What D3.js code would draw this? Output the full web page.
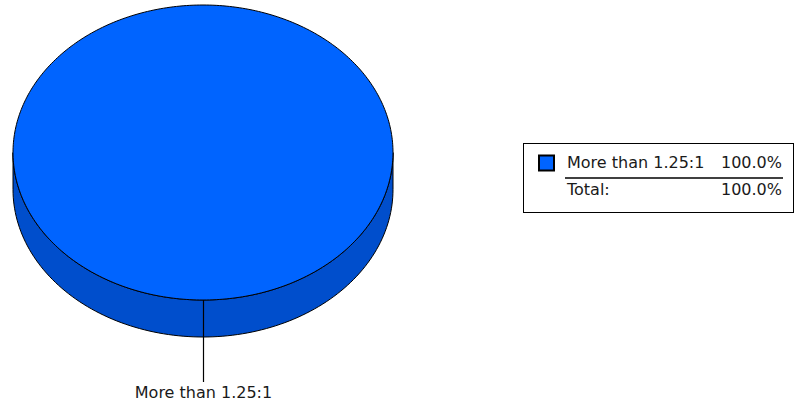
<!DOCTYPE html>
<html>
<head>
<meta charset="utf-8">
<script src="https://cdn.jsdelivr.net/npm/d3@7"></script>
<style>
  body { margin: 0; background: #fff; }
  text { font-family: "DejaVu Sans", sans-serif; fill: #1a1a1a; }
</style>
</head>
<body>
<svg id="chart" width="795" height="406"></svg>
<script>
// data
var categories = ["More than 1.25:1"];
var values = [100.0];
var percentLabels = ["100.0%"];
var totalLabel = "Total:";
var totalValue = "100.0%";

var topColor = "#0064ff";
var sideColor = "#004ecc";

var svg = d3.select("#chart");

// pie geometry
var cx = 203, cy = 152.5, rx = 190, ry = 147.5, depth = 37;

var pie = d3.pie().sort(null).value(d => d.value);
var slices = pie(categories.map((c, i) => ({label: c, value: values[i]})));

function pt(a, dy) {
  return [cx + rx * Math.sin(a), cy - ry * Math.cos(a) + (dy || 0)];
}
var line = d3.line();

// side wall (only the front half, angles pi/2 .. 3pi/2)
slices.forEach(function(s) {
  var a0 = Math.max(s.startAngle, Math.PI / 2);
  var a1 = Math.min(s.endAngle, Math.PI * 1.5);
  if (a1 <= a0) return;
  var steps = d3.range(0, 121).map(k => a0 + (a1 - a0) * k / 120);
  var pts = steps.map(a => pt(a, 0)).concat(steps.slice().reverse().map(a => pt(a, depth)));
  svg.append("path")
    .attr("d", line(pts) + "Z")
    .attr("fill", sideColor)
    .attr("stroke", "#000")
    .attr("stroke-width", 1);
});

// top face
slices.forEach(function(s) {
  var steps = d3.range(0, 361).map(k => s.startAngle + (s.endAngle - s.startAngle) * k / 360);
  var pts = steps.map(a => pt(a, 0));
  if (s.endAngle - s.startAngle < Math.PI * 2 - 1e-6) pts.push([cx, cy]);
  svg.append("path")
    .attr("d", line(pts) + "Z")
    .attr("fill", topColor)
    .attr("stroke", "#000")
    .attr("stroke-width", 1);
});

// leader lines and labels
slices.forEach(function(s) {
  var mid = (s.startAngle + s.endAngle) / 2;
  var p = pt(mid, 0);
  var x = Math.round(p[0]) + 0.5;
  svg.append("line")
    .attr("x1", x).attr("x2", x)
    .attr("y1", p[1]).attr("y2", 382)
    .attr("stroke", "#000")
    .attr("stroke-width", 1.2);
  svg.append("text")
    .attr("x", x)
    .attr("y", 398)
    .attr("text-anchor", "middle")
    .style("font-size", "16px")
    .text(s.data.label);
});

// legend
var lg = svg.append("g");
lg.append("rect")
  .attr("x", 523.5).attr("y", 143.5)
  .attr("width", 270).attr("height", 69)
  .attr("fill", "#fff")
  .attr("stroke", "#000")
  .attr("stroke-width", 1);

categories.forEach(function(c, i) {
  var y = 155 + i * 20;
  lg.append("rect")
    .attr("x", 539).attr("y", y + 0.5)
    .attr("width", 15).attr("height", 15)
    .attr("fill", topColor)
    .attr("stroke", "#000")
    .attr("stroke-width", 2);
  lg.append("text")
    .attr("x", 567).attr("y", y + 13)
    .style("font-size", "16px")
    .text(c);
  lg.append("text")
    .attr("x", 782).attr("y", y + 13)
    .attr("text-anchor", "end")
    .style("font-size", "16px")
    .text(percentLabels[i]);
});

var ty = 155 + categories.length * 20;
lg.append("line")
  .attr("x1", 565).attr("x2", 783)
  .attr("y1", ty + 3).attr("y2", ty + 3)
  .attr("stroke", "#000")
  .attr("stroke-width", 1.5);
lg.append("text")
  .attr("x", 567).attr("y", ty + 20)
  .style("font-size", "16px")
  .text(totalLabel);
lg.append("text")
  .attr("x", 782).attr("y", ty + 20)
  .attr("text-anchor", "end")
  .style("font-size", "16px")
  .text(totalValue);
</script>
</body>
</html>
